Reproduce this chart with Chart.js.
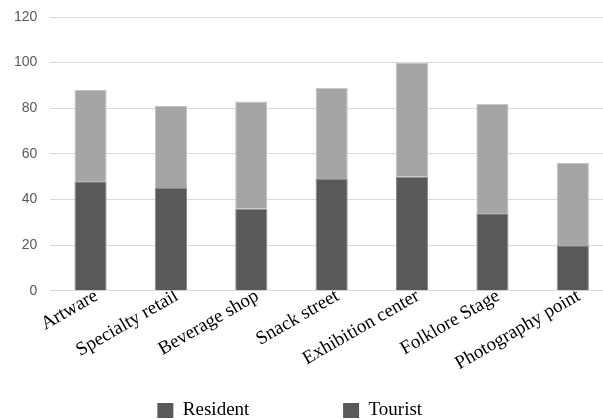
<!DOCTYPE html>
<html>
<head>
<meta charset="utf-8">
<script src="https://cdn.jsdelivr.net/npm/chart.js"></script>
<style>
html, body { margin: 0; padding: 0; overflow: hidden; background: #fff; }
#wrap { width: 613px; height: 430px; }
</style>
</head>
<body>
<div id="wrap"><canvas id="chart" width="613" height="430"></canvas></div>
<script>
// data
const places = ['Artware', 'Specialty retail', 'Beverage shop', 'Snack street', 'Exhibition center', 'Folklore Stage', 'Photography point'];
const residentData = [48, 45, 36, 49, 50, 34, 20];
const touristData = [40, 36, 47, 40, 50, 48, 36];
const seriesNames = ['Resident', 'Tourist'];
const yTicks = [0, 20, 40, 60, 80, 100, 120];

// legend in the picture is spread wide, pad with trailing spaces
const legendPad = [13, 10];

const ctx = document.getElementById('chart');

const chart = new Chart(ctx, {
    type: 'bar',
    data: {
        labels: places,
        datasets: [{
            label: seriesNames[0],
            data: residentData,
            backgroundColor: '#595959',
            borderColor: '#8a8a8a',
            borderWidth: 1
        },
        {
            label: seriesNames[1],
            data: touristData,
            backgroundColor: '#a5a5a5',
            borderColor: '#c4c4c4',
            borderWidth: 1
        }]
    },
    options: {
        responsive: false,
        animation: false,
        layout: {
            padding: { top: 17, left: 14, right: 0, bottom: 0 }
        },
        datasets: {
            bar: {
                categoryPercentage: 1,
                barPercentage: 0.4
            }
        },
        scales: {
            x: {
                stacked: true,
                grid: { display: false, drawTicks: false },
                border: { display: false },
                ticks: {
                    autoSkip: false,
                    minRotation: 30,
                    maxRotation: 30,
                    padding: -6,
                    labelOffset: 6,
                    color: '#000',
                    font: { family: 'Liberation Serif', size: 19 }
                }
            },
            y: {
                stacked: true,
                min: 0,
                max: 120,
                afterBuildTicks: function (axis) {
                    axis.ticks = yTicks.map(v => ({ value: v }));
                },
                // invisible tick marks keep the gap between labels and grid
                grid: { color: '#d9d9d9', lineWidth: 1, drawTicks: true, tickLength: 13, tickColor: 'rgba(0,0,0,0)' },
                border: { display: false },
                ticks: {
                    padding: 0,
                    color: '#595959',
                    font: { family: 'Liberation Sans', size: 14 }
                }
            }
        },
        plugins: {
            legend: {
                position: 'bottom',
                labels: {
                    boxWidth: 16,
                    boxHeight: 15,
                    padding: 32,
                    color: '#000',
                    font: { family: 'Liberation Serif', size: 19 },
                    generateLabels: function (c) {
                        return c.data.datasets.map((ds, i) => ({
                            text: ds.label + ' '.repeat(legendPad[i]),
                            fillStyle: '#595959',
                            strokeStyle: '#595959',
                            lineWidth: 0,
                            hidden: false,
                            datasetIndex: i
                        }));
                    }
                }
            },
            tooltip: { enabled: false }
        }
    }
});
</script>
</body>
</html>
